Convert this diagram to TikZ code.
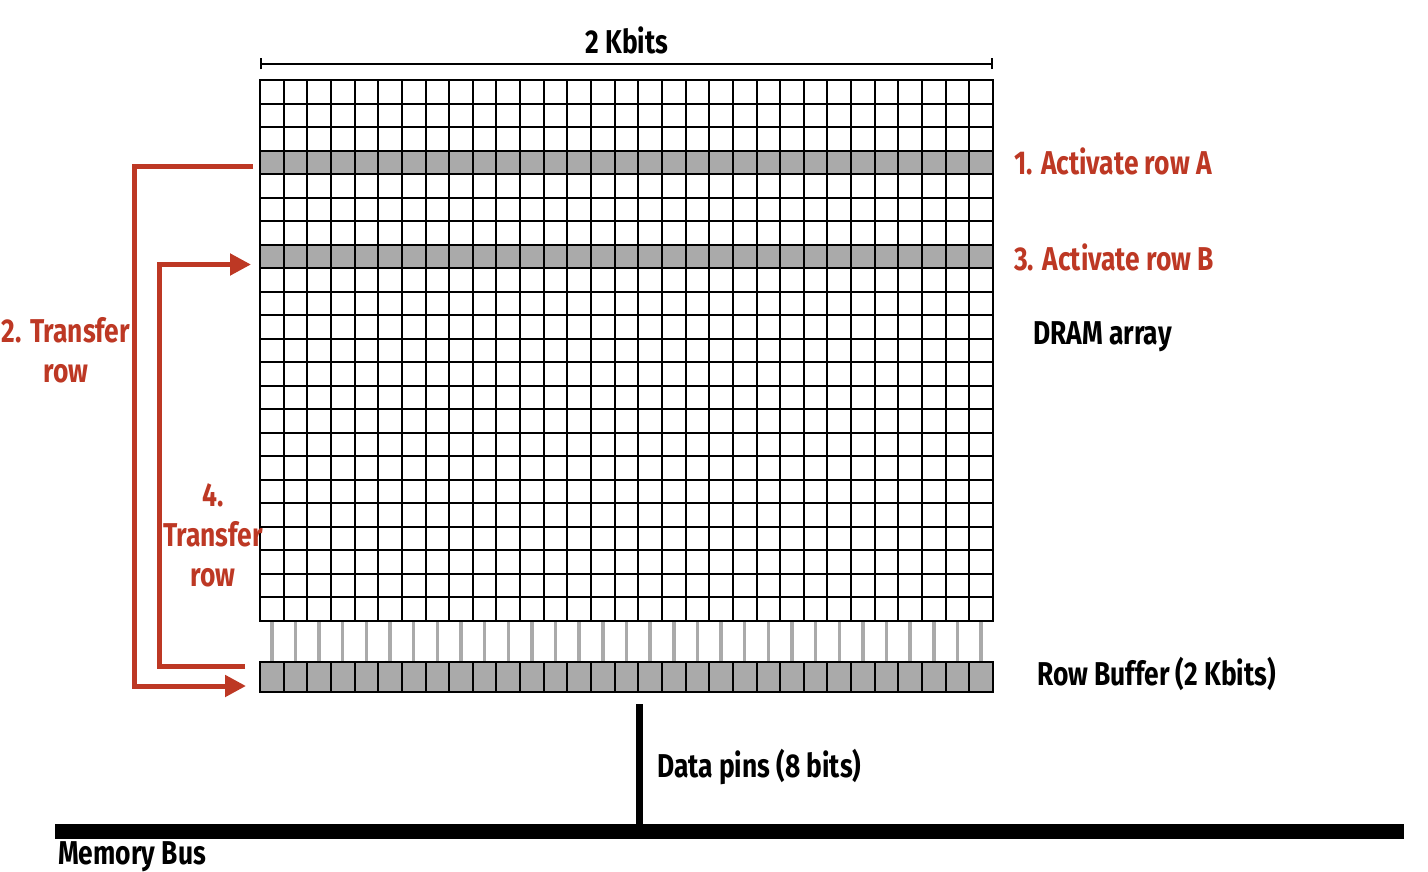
\documentclass[tikz,border=0pt]{standalone}
\usepackage{fontspec}
\setmainfont{Fira Sans}[FakeStretch=0.8]
\usetikzlibrary{arrows.meta,positioning,calc}
\definecolor{figred}{RGB}{189,56,36}
\definecolor{figgray}{RGB}{170,170,170}

\begin{document}
\begin{tikzpicture}[
  x=1pt,y=-1pt,
  lbl/.style={font=\fontsize{33}{40}\selectfont\bfseries,inner sep=0pt},
  actlbl/.style={lbl,text=figred,align=center},
  gridline/.style={draw,line width=2pt},
  xfer/.style={draw=figred,line width=5pt,-{Triangle[length=21pt,width=21pt]}}
]
\useasboundingbox (0,0) rectangle (1428,872);

% DRAM array, 31 x 23 cells
\fill[figgray] (260,150.56) rectangle (993,174.08);
\fill[figgray] (260,244.64) rectangle (993,268.16);
\foreach \i in {0,...,31}
  \draw[gridline] (260+\i*23.645,80) -- ++(0,541);
\foreach \j in {0,...,23}
  \draw[gridline] (259,80+\j*23.52) -- ++(735,0);

% sense lines into the row buffer
\foreach \i in {0,...,30}
  \draw[figgray,line width=3.5pt] (260+\i*23.645+11.8,622) -- ++(0,40);

% row buffer
\fill[figgray] (260,662) rectangle (993,692);
\foreach \i in {0,...,31}
  \draw[gridline] (260+\i*23.645,662) -- ++(0,30);
\draw[gridline] (259,662) -- (994,662);
\draw[gridline] (259,692) -- (994,692);

% width marker
\coordinate (wl) at (260,64);
\coordinate (wr) at (993,64);
\draw[line width=2pt,{Bar[width=11pt]}-{Bar[width=11pt]}] (wl) -- (wr);
\node[lbl] (width) at (627,40) {2 Kbits};

% step labels
\node[actlbl,anchor=west] (acta) at (1014,161) {1. Activate row A};
\node[actlbl,anchor=west] (actb) at (1014,257) {3. Activate row B};
\node[lbl,anchor=west] (array) at (1033,337) {DRAM array};
\node[lbl,anchor=west] (rowbuf) at (1037,674) {Row Buffer (2 Kbits)};
\node[actlbl] (xfera) at (66,350) {2. Transfer\\row};
\node[actlbl] (xferb) at (213,535) {4.\\Transfer\\row};

% transfer arrows
\coordinate (rowa) at (253,166.5);
\coordinate (bufa) at (246,686);
\coordinate (bufb) at (245,666);
\coordinate (rowb) at (251,264.5);
\draw[xfer] (rowa) -- (134,166.5) |- (bufa);
\draw[xfer] (bufb) -- (159,666) |- (rowb);

% data pins and memory bus
\coordinate (pintop) at (639,704);
\coordinate (pinbot) at (639,824);
\draw[line width=7pt] (pintop) -- (pinbot);
\node[lbl,anchor=west] (pins) at (657,767) {Data pins (8 bits)};
\coordinate (busl) at (55,831);
\coordinate (busr) at (1404,831);
\draw[line width=15pt] (busl) -- (busr);
\node[lbl,anchor=base west] (bus) at (58,864) {Memory Bus};
\end{tikzpicture}
\end{document}
